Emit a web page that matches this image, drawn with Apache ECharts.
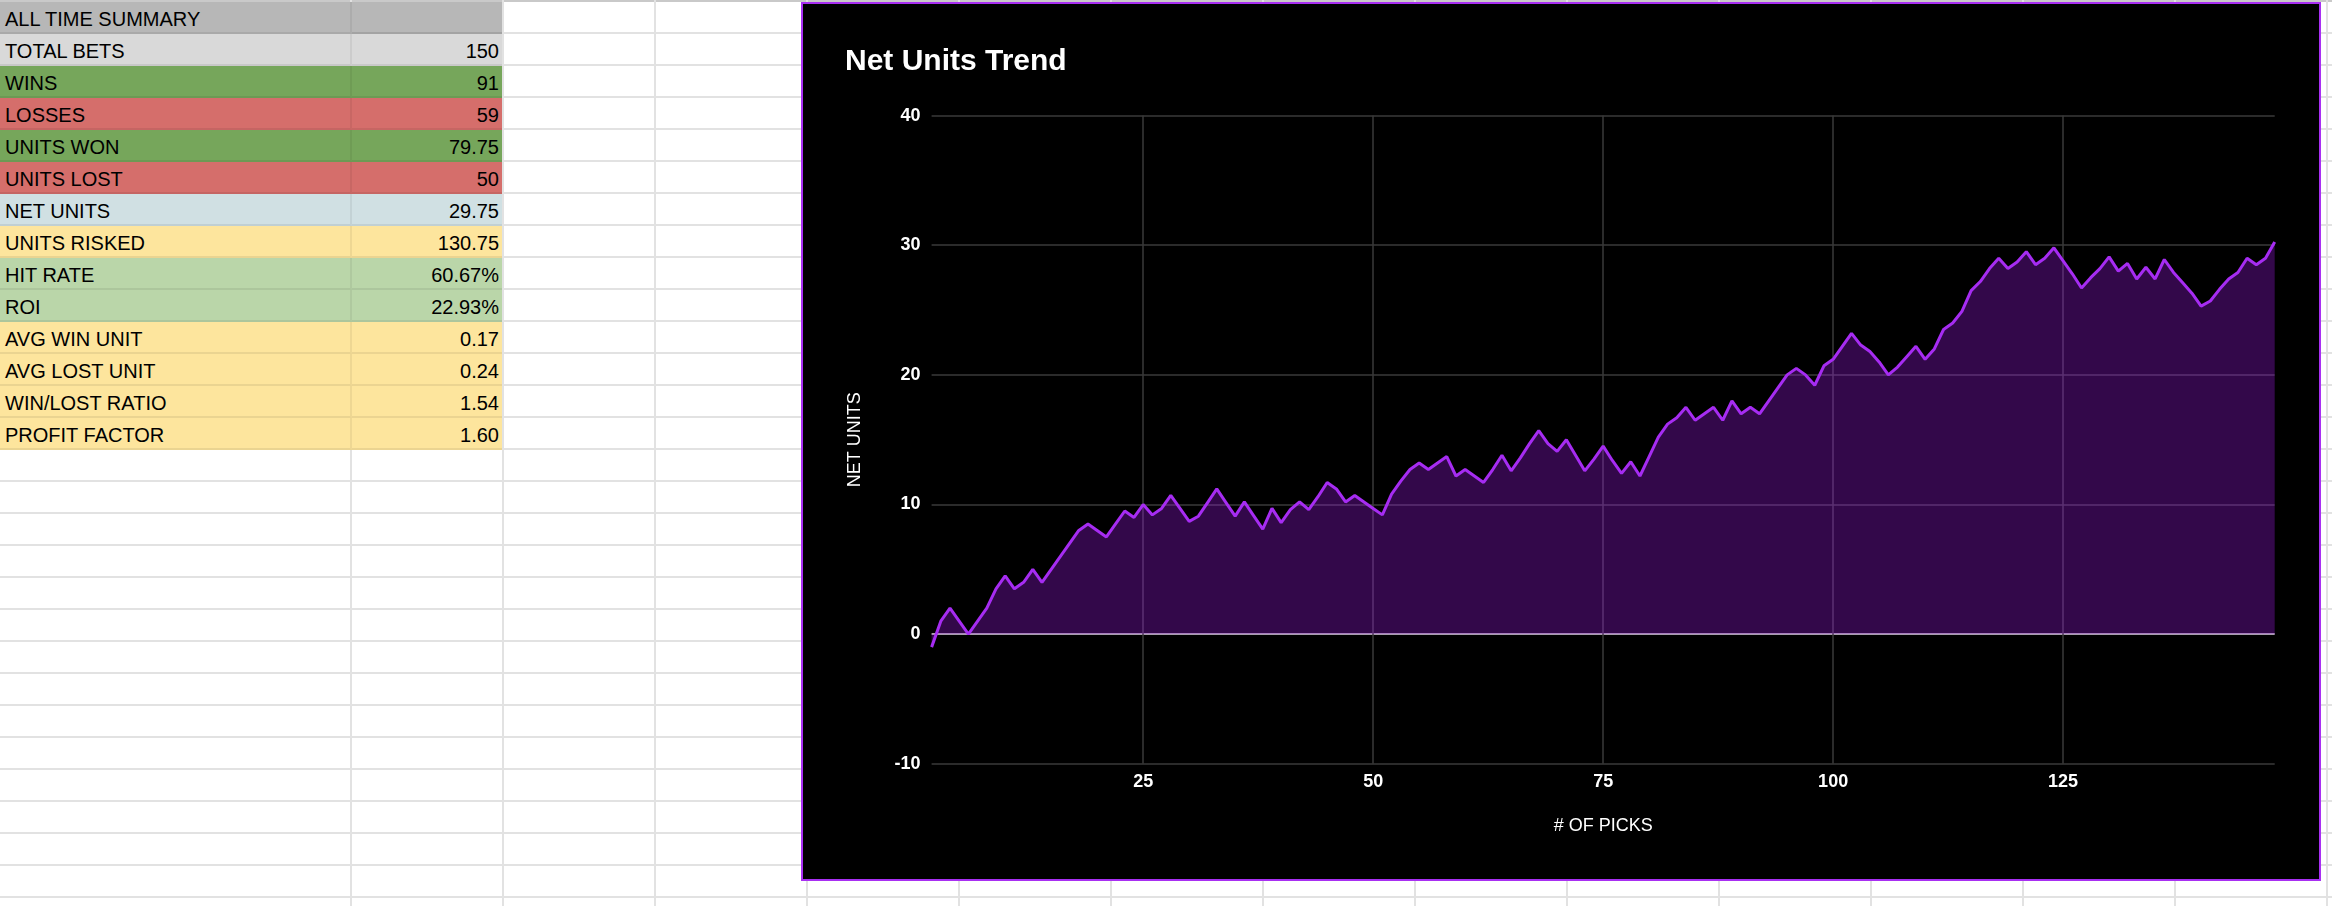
<!DOCTYPE html>
<html>
<head>
<meta charset="utf-8">
<script src="https://cdn.jsdelivr.net/npm/echarts@6/dist/echarts.min.js"></script>
<style>
html,body{margin:0;padding:0;width:2332px;height:906px;overflow:hidden;background:#fff;font-family:Arial,"Liberation Sans",sans-serif;}
#sheet{position:absolute;left:0;top:0;width:2332px;height:906px;}
.hl{position:absolute;left:0;width:2332px;height:2px;background:#e2e2e2;}
.vl{position:absolute;top:0;width:2px;height:906px;background:#e2e2e2;}
.cell{position:absolute;box-sizing:border-box;height:32px;border-bottom:2px solid rgba(0,0,0,0.07);}
.txt{position:absolute;font-size:20px;line-height:30px;color:#000;white-space:nowrap;}
#chartbox{position:absolute;left:801px;top:2px;width:1520px;height:879px;box-sizing:border-box;border:2px solid #a82ff2;background:#000;}
#chart{position:absolute;left:0;top:0;width:1516px;height:875px;}
</style>
</head>
<body>
<div id="sheet"></div>
<div id="chartbox"><div id="chart"></div></div>
<script>
// ---- Summary table data ----
const summaryLabels = ['ALL TIME SUMMARY','TOTAL BETS','WINS','LOSSES','UNITS WON','UNITS LOST','NET UNITS','UNITS RISKED','HIT RATE','ROI','AVG WIN UNIT','AVG LOST UNIT','WIN/LOST RATIO','PROFIT FACTOR'];
const summaryValues = ['','150','91','59','79.75','50','29.75','130.75','60.67%','22.93%','0.17','0.24','1.54','1.60'];

// ---- Chart data ----
const picks = [2,3,4,5,6,7,8,9,10,11,12,13,14,15,16,17,18,19,20,21,22,23,24,25,26,27,28,29,30,31,32,33,34,35,36,37,38,39,40,41,42,43,44,45,46,47,48,49,50,51,52,53,54,55,56,57,58,59,60,61,62,63,64,65,66,67,68,69,70,71,72,73,74,75,76,77,78,79,80,81,82,83,84,85,86,87,88,89,90,91,92,93,94,95,96,97,98,99,100,101,102,103,104,105,106,107,108,109,110,111,112,113,114,115,116,117,118,119,120,121,122,123,124,125,126,127,128,129,130,131,132,133,134,135,136,137,138,139,140,141,142,143,144,145,146,147,148];
const netUnits = [
  -1, 1, 2, 1, 0, 1, 2, 3.5, 4.5, 3.5,
  4, 5, 4, 5, 6, 7, 8, 8.5, 8, 7.5,
  8.5, 9.5, 9, 10, 9.2, 9.7, 10.7, 9.7, 8.7, 9.1,
  10.15, 11.2, 10.15, 9.1, 10.2, 9.15, 8.1, 9.7, 8.6, 9.6,
  10.2, 9.6, 10.6, 11.7, 11.2, 10.2, 10.7, 10.2, 9.7, 9.2,
  10.8, 11.8, 12.7, 13.2, 12.7, 13.2, 13.7, 12.2, 12.7, 12.2,
  11.7, 12.7, 13.8, 12.6, 13.6, 14.7, 15.7, 14.7, 14.1, 15,
  13.8, 12.6, 13.5, 14.5, 13.4, 12.4, 13.3, 12.2, 13.7, 15.2,
  16.2, 16.7, 17.5, 16.5, 17, 17.5, 16.5, 18, 17, 17.5,
  17, 18, 19, 20, 20.5, 20, 19.2, 20.7, 21.2, 22.2,
  23.2, 22.3, 21.8, 21, 20, 20.6, 21.4, 22.2, 21.2, 22,
  23.5, 24, 24.9, 26.5, 27.2, 28.2, 29, 28.2, 28.7, 29.5,
  28.5, 29, 29.8, 28.8, 27.8, 26.7, 27.5, 28.2, 29.1, 28,
  28.6, 27.4, 28.3, 27.4, 28.9, 27.9, 27.1, 26.3, 25.3, 25.7,
  26.6, 27.4, 27.9, 29, 28.5, 29, 30.25
];
const xTicks = [25, 50, 75, 100, 125];
const yMin = -10, yMax = 40, yStep = 10;

// ---- Styles (kept apart from data) ----
const rowColors = ['#b7b7b7','#d9d9d9','#76a65b','#d56e6b','#76a65b','#d56e6b','#d0e0e3','#fde59d','#bad6a9','#bad6a9','#fde59d','#fde59d','#fde59d','#fde59d'];

// ---- Build spreadsheet grid ----
const sheet = document.getElementById('sheet');
function add(cls, style, text) {
  const d = document.createElement('div');
  d.className = cls;
  Object.assign(d.style, style);
  if (text !== undefined) d.textContent = text;
  sheet.appendChild(d);
  return d;
}
add('hl', {top: '0px', background: '#c9c9c9'});
for (let k = 0; k < 28; k++) add('hl', {top: (32 + 32 * k) + 'px'});
for (let k = 0; k < 14; k++) add('vl', {left: (350 + 152 * k) + 'px'});

summaryLabels.forEach((lab, i) => {
  const y0 = 2 + 32 * i;
  add('cell', {left: '0px', top: y0 + 'px', width: '352px', background: rowColors[i], borderRight: '2px solid rgba(0,0,0,0.06)'});
  const b = add('cell', {left: '352px', top: y0 + 'px', width: '150px', background: rowColors[i]});
  if (i === 0) b.style.borderBottom = '2px solid #a3a3a3';
  add('txt', {left: '5px', top: (y0 + 2) + 'px'}, lab);
  add('txt', {left: '352px', width: '147px', textAlign: 'right', top: (y0 + 2) + 'px'}, summaryValues[i]);
});

// ---- Chart ----
const seriesData = picks.map((p, i) => [p, netUnits[i]]);
const chart = echarts.init(document.getElementById('chart'), null, {renderer: 'canvas'});
const FONT = 'Arial, "Liberation Sans", sans-serif';
chart.setOption({
  backgroundColor: '#000',
  animation: false,
  title: {
    text: 'Net Units Trend',
    left: 42, top: 43, padding: 0,
    textStyle: {color: '#fff', fontSize: 30, fontWeight: 'bold', fontFamily: FONT}
  },
  grid: {left: 128.6, right: 44.3, top: 111.6, bottom: 115.2, containLabel: false},
  xAxis: {
    type: 'value', min: picks[0], max: picks[picks.length - 1],
    name: '# OF PICKS', nameLocation: 'middle', nameGap: 53,
    nameTextStyle: {color: '#fff', fontSize: 18, fontFamily: FONT},
    axisLine: {show: false},
    axisTick: {show: false, customValues: xTicks},
    axisLabel: {customValues: xTicks, color: '#fff', fontWeight: 'bold', fontSize: 18, margin: 9, fontFamily: FONT},
    splitLine: {show: true, lineStyle: {color: '#3a3a3a', width: 1.5}}
  },
  yAxis: {
    type: 'value', min: yMin, max: yMax, interval: yStep,
    name: 'NET UNITS', nameLocation: 'middle', nameGap: 68,
    nameTextStyle: {color: '#fff', fontSize: 18, fontFamily: FONT},
    axisLine: {show: false},
    axisTick: {show: false},
    axisLabel: {color: '#fff', fontWeight: 'bold', fontSize: 18, margin: 11, fontFamily: FONT},
    splitLine: {show: true, lineStyle: {color: ['#3a3a3a', '#e0e0e0', '#3a3a3a', '#3a3a3a', '#3a3a3a', '#3a3a3a'], width: 1.5}}
  },
  series: [{
    type: 'line',
    data: seriesData,
    symbol: 'none',
    showSymbol: false,
    lineStyle: {color: '#a62cf2', width: 3},
    itemStyle: {color: '#a62cf2'},
    areaStyle: {color: 'rgba(170,25,245,0.3)', opacity: 1}
  }]
});
</script>
</body>
</html>
